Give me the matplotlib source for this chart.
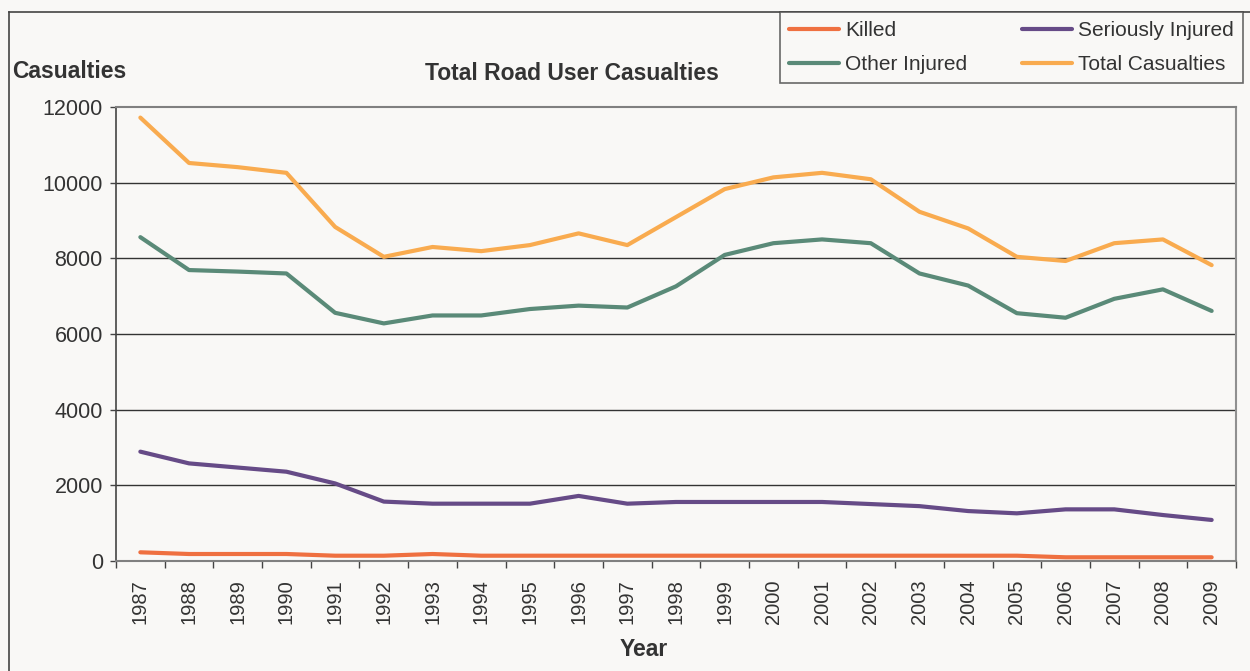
import matplotlib
matplotlib.use("Agg")
import matplotlib.pyplot as plt
from matplotlib.lines import Line2D
import numpy as np

plt.rcParams['font.family'] = ['Liberation Sans', 'DejaVu Sans']

years = ["1987", "1988", "1989", "1990", "1991", "1992", "1993", "1994", "1995", "1996",
         "1997", "1998", "1999", "2000", "2001", "2002", "2003", "2004", "2005", "2006",
         "2007", "2008", "2009"]
killed = [230, 185, 185, 185, 140, 140, 185, 140, 140, 140, 140, 140,
          140, 140, 140, 140, 140, 140, 140, 98, 98, 98, 98]
seriously_injured = [2890, 2580, 2470, 2360, 2050, 1570, 1515, 1515, 1515, 1720, 1515, 1560,
                     1560, 1560, 1560, 1505, 1450, 1320, 1260, 1365, 1365, 1215, 1085]
other_injured = [8560, 7690, 7650, 7600, 6560, 6280, 6490, 6490, 6660, 6750, 6700, 7260,
                 8090, 8400, 8500, 8400, 7600, 7280, 6550, 6430, 6930, 7180, 6610]
total_casualties = [11720, 10520, 10410, 10260, 8830, 8040, 8300, 8190, 8350, 8660, 8350, 9090,
                    9830, 10140, 10260, 10090, 9230, 8790, 8040, 7930, 8400, 8500, 7820]
y_ticks = [0, 2000, 4000, 6000, 8000, 10000, 12000]

BG = "#F9F8F6"
TXT = "#333333"
W, H = 1250, 671

fig = plt.figure(figsize=(12.5, 6.71), dpi=100, facecolor=BG)
ax = fig.add_axes([116 / W, 1 - 561 / H, (1236 - 116) / W, (561 - 107) / H])
ax.set_facecolor(BG)

x = np.arange(len(years))
series = [
    ("Killed", killed, "#EF7040"),
    ("Seriously Injured", seriously_injured, "#664B87"),
    ("Other Injured", other_injured, "#5A8A78"),
    ("Total Casualties", total_casualties, "#F9AB4F"),
]
handles = {}
for name, vals, col in series:
    ln, = ax.plot(x, vals, color=col, lw=3.0, solid_capstyle='round',
                  solid_joinstyle='round', label=name, zorder=3)
    handles[name] = ln

ax.set_xlim(-0.5, len(years) - 0.5)
ax.set_ylim(0, 12000)
ax.set_yticks(y_ticks)
ax.set_yticklabels([str(v) for v in y_ticks])
for v in y_ticks[1:-1]:
    ax.axhline(v, color="#333333", lw=1.0, zorder=1)

ax.set_xticks(x)
ax.set_xticklabels(years, rotation=90, va='top', ha='center')
ax.set_xticks(np.arange(-0.5, len(years), 1.0), minor=True)
ax.tick_params(axis='x', which='major', length=0, pad=13, labelsize=14.5, labelcolor=TXT)
ax.tick_params(axis='x', which='minor', length=5, width=1, color="#444444", direction='out')
ax.tick_params(axis='y', which='major', length=4.5, width=1, color="#444444", pad=5,
               labelsize=15.5, labelcolor=TXT)

ax.spines['left'].set_color("#444444")
ax.spines['left'].set_linewidth(1.2)
ax.spines['bottom'].set_color("#808080")
ax.spines['bottom'].set_linewidth(1.5)
ax.spines['top'].set_color("#808080")
ax.spines['top'].set_linewidth(1.5)
ax.spines['right'].set_color("#909090")
ax.spines['right'].set_linewidth(1.5)

# Outer frame
fig.add_artist(Line2D([9 / W, 9 / W], [0, 1 - 12 / H], transform=fig.transFigure,
                      color="#444444", lw=1.2))
fig.add_artist(Line2D([9 / W, 1], [1 - 12 / H, 1 - 12 / H], transform=fig.transFigure,
                      color="#444444", lw=1.2))

fig.text(572 / W, 1 - 73 / H, "Total Road User Casualties", ha='center', va='center',
         fontsize=16.5, fontweight='bold', color=TXT)
fig.text(12 / W, 1 - 72 / H, "Casualties", ha='left', va='center',
         fontsize=16.5, fontweight='bold', color=TXT)
fig.text(644 / W, 1 - 650 / H, "Year", ha='center', va='center',
         fontsize=16.5, fontweight='bold', color=TXT)

leg_order = ["Killed", "Other Injured", "Seriously Injured", "Total Casualties"]
leg = fig.legend([handles[n] for n in leg_order], leg_order, ncol=2,
                 loc='upper right', bbox_to_anchor=(1243 / W, 1 - 12 / H),
                 borderaxespad=0, frameon=True, fancybox=False,
                 fontsize=15, handlelength=2.4, handletextpad=0.3,
                 columnspacing=2.6, labelspacing=0.7, borderpad=0.45,
                 labelcolor=TXT)
leg.get_frame().set_edgecolor("#444444")
leg.get_frame().set_linewidth(1.2)
leg.get_frame().set_facecolor(BG)

fig.savefig("out.png", dpi=100, facecolor=BG)
